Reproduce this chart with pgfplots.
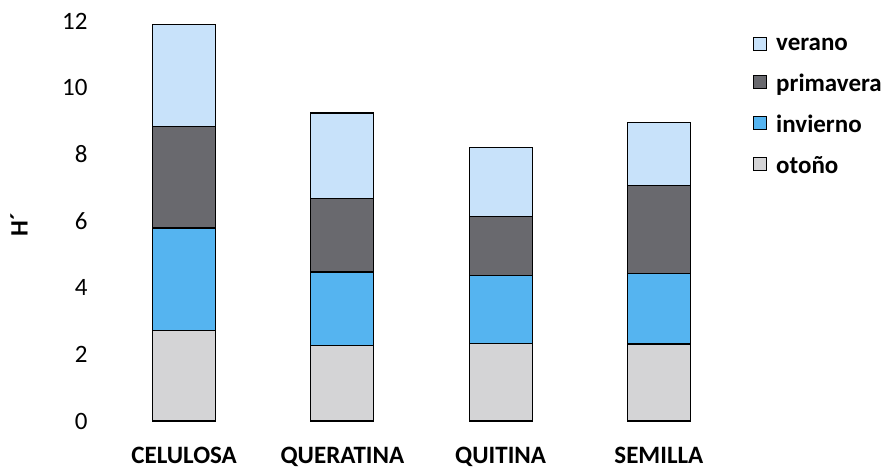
\documentclass[border=0pt]{standalone}
\usepackage{pgfplots}
\pgfplotsset{compat=1.18}
\usepackage{fontspec}
\setmainfont{Carlito}
\definecolor{cVer}{RGB}{200,226,250}
\definecolor{cPri}{RGB}{105,105,110}
\definecolor{cInv}{RGB}{85,180,240}
\definecolor{cOto}{RGB}{212,212,214}
\begin{document}
\begin{tikzpicture}
\begin{axis}[
  scale only axis, width=633pt, height=400pt,
  ymin=0, ymax=12, xmin=-0.5, xmax=3.5,
  ybar stacked, bar width=63pt,
  xtick={0,1,2,3},
  xticklabels={CELULOSA,QUERATINA,QUITINA,SEMILLA},
  ytick={0,2,4,6,8,10,12},
  axis line style={draw=none},
  major tick length=0pt,
  /pgf/number format/assume math mode=true,
  y tick label style={font=\fontsize{25}{25}\selectfont, xshift=-14pt},
  x tick label style={font=\bfseries\fontsize{25}{25}\selectfont, yshift=-23pt},
  ylabel={\textbf{H´}},
  ylabel style={font=\fontsize{25}{25}\selectfont, at={(axis description cs:-0.136,0.49)}, anchor=center},
  every axis plot/.append style={draw=black, line width=1.1pt},
  legend style={at={(axis description cs:1.0237,0.9625)}, anchor=north west, draw=none,
    font=\bfseries\fontsize{25}{25}\selectfont, row sep=18pt, column sep=7pt, inner sep=0pt},
  legend cell align=left,
  reverse legend,
  legend image code/.code={\draw[#1, draw=black, line width=1pt] (0pt,-5pt) rectangle (13pt,8pt);},
]
\coordinate (O) at (rel axis cs:0,0);
\addplot[fill=cOto] coordinates {(0,2.71) (1,2.26) (2,2.33) (3,2.31)};
\addplot[fill=cInv] coordinates {(0,3.08) (1,2.21) (2,2.03) (3,2.12)};
\addplot[fill=cPri] coordinates {(0,3.05) (1,2.20) (2,1.78) (3,2.63)};
\addplot[fill=cVer] coordinates {(0,3.05) (1,2.57) (2,2.07) (3,1.90)};
\legend{otoño,invierno,primavera,verano}
\end{axis}
\pgfresetboundingbox
\path[use as bounding box] ([shift={(-105pt,-51pt)}]O) rectangle ++(886pt,472pt);
\end{tikzpicture}
\end{document}
